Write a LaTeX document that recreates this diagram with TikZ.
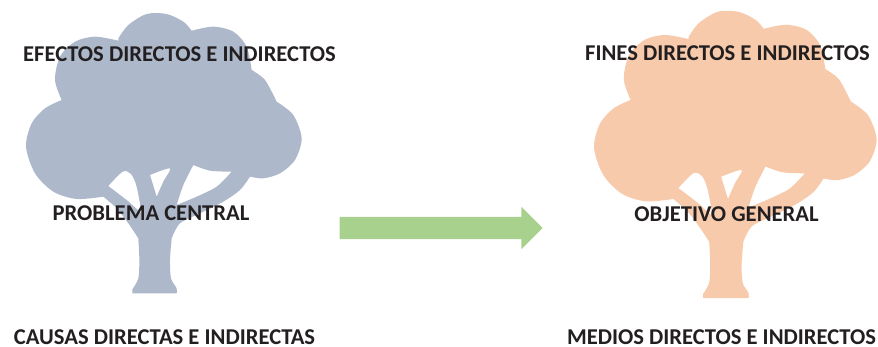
\documentclass[tikz,border=0pt]{standalone}
\usepackage{fontspec}
\setmainfont{Carlito}
\usetikzlibrary{shapes.arrows}
\definecolor{treeblue}{HTML}{ADB9CA}
\definecolor{treepeach}{HTML}{F7CAAC}
\definecolor{arrowgreen}{HTML}{A9D18E}
\definecolor{labelink}{HTML}{231F20}
\tikzset{
	label text/.style={text=labelink, inner sep=0pt, font=\bfseries\fontsize{22.6}{26}\selectfont},
	pics/tree/.style={code={
		\fill[fill=#1, even odd rule, scale=1/3]
			plot[smooth] coordinates {(355,115) (385,75) (440,42) (500,42) (550,65) (575,92)}
			-- plot[smooth] coordinates {(575,92) (640,80) (700,95) (740,140) (755,210)}
			-- plot[smooth] coordinates {(755,210) (795,240) (830,305)}
			-- plot[smooth] coordinates {(830,305) (880,345) (905,415) (885,480) (840,520) (790,535) (750,530)}
			-- plot[smooth] coordinates {(750,530) (720,570) (670,605) (600,640) (540,670) (515,715)}
			-- plot[smooth] coordinates {(515,715) (510,780) (513,835) (530,865) (530,880)}
			-- (397,880)
			-- plot[smooth] coordinates {(397,868) (415,835) (418,780) (415,715)}
			-- plot[smooth] coordinates {(415,715) (385,670) (350,625) (310,590)}
			-- plot[smooth] coordinates {(310,590) (230,597) (160,575) (105,520) (78,440) (95,370) (135,325) (185,300)}
			-- plot[smooth] coordinates {(185,300) (165,240) (180,170) (225,125) (285,110) (355,122)}
			-- cycle
			% gaps between the branches
			plot[smooth] coordinates {(325,558) (368,515) (393,522) (410,560) (425,640)} -- (380,600) -- cycle
			plot[smooth] coordinates {(450,525) (510,505) (490,545) (470,590)} -- cycle
			plot[smooth] coordinates {(580,495) (630,512) (695,515)}
			-- plot[smooth] coordinates {(695,515) (650,560) (590,590) (530,615)}
			-- plot[smooth] coordinates {(530,615) (550,555) (580,495)} -- cycle;
	}}
}

\begin{document}
\begin{tikzpicture}[x=1pt, y=-1pt]
	\useasboundingbox (0,0) rectangle (878,347);

	% --- Trees ---
	\pic at (0,0) {tree=treeblue};
	\pic[scale=1.025] at (567.4,-2.6) {tree=treepeach};

	% --- Arrow ---
	\node[single arrow, fill=arrowgreen, text height=22pt, text depth=0pt, minimum height=203pt, single arrow head extend=10pt, inner sep=0pt] (flecha) at (435.5,228) {};

	% --- Labels ---
	% Left
	\node[label text] (efectos) at (179.5,54) {EFECTOS DIRECTOS E INDIRECTOS};
	\node[label text] (problema) at (151,213) {PROBLEMA CENTRAL};
	\node[label text] (causas) at (164.5,337) {CAUSAS DIRECTAS E INDIRECTAS};
	% Right
	\node[label text] (fines) at (727.5,53) {FINES DIRECTOS E INDIRECTOS};
	\node[label text] (objetivo) at (726.5,214) {OBJETIVO GENERAL};
	\node[label text] (medios) at (721.5,337) {MEDIOS DIRECTOS E INDIRECTOS};
\end{tikzpicture}
\end{document}
